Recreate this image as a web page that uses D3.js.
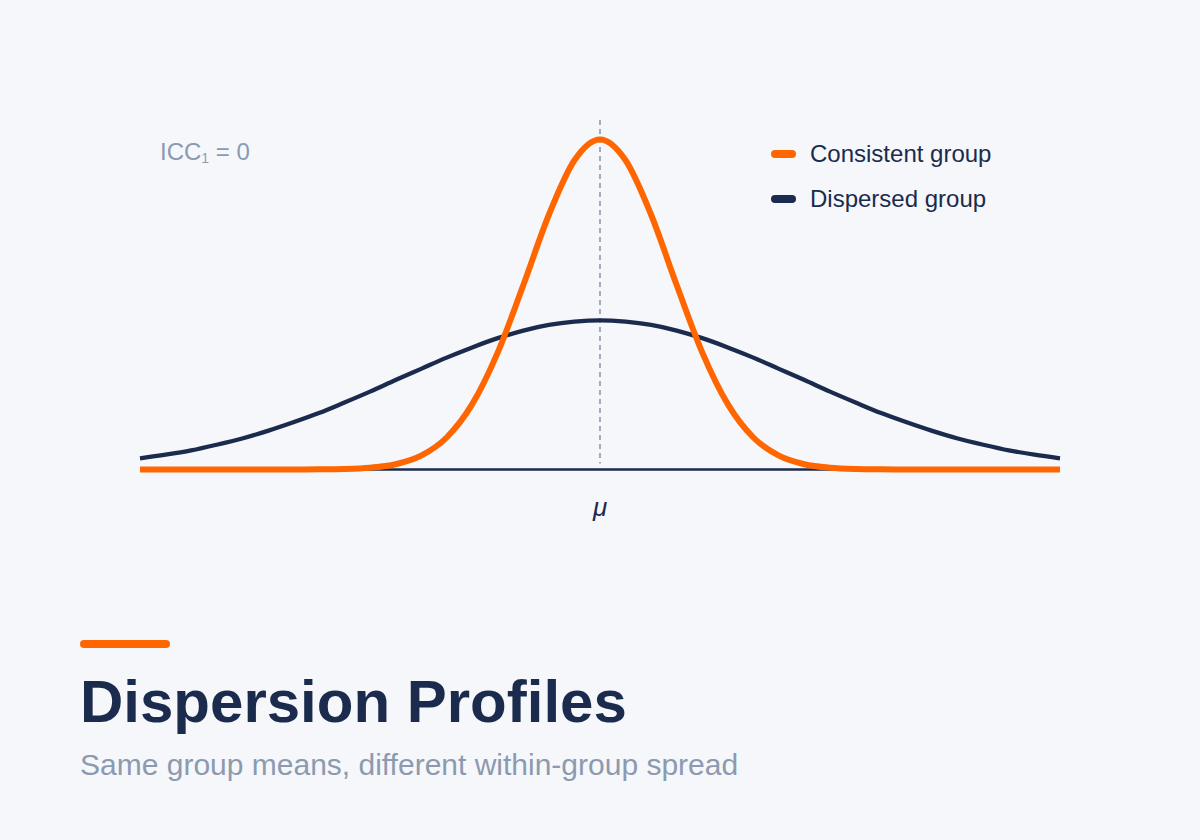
<!DOCTYPE html>
<html>
<head>
<meta charset="utf-8">
<script src="https://cdn.jsdelivr.net/npm/d3@7"></script>
<style>
  html, body { margin: 0; padding: 0; background: #f5f7fa; }
  svg { display: block; font-family: "Liberation Sans", Arial, sans-serif; }
</style>
</head>
<body>
<div id="chart"></div>
<script>
// x positions (in sd-ish units around the mean)
const xs = [-4.5, -4.25, -4, -3.75, -3.5, -3.25, -3, -2.75, -2.5, -2.25, -2, -1.75, -1.5, -1.25, -1, -0.75, -0.5, -0.25, 0,
  0.25, 0.5, 0.75, 1, 1.25, 1.5, 1.75, 2, 2.25, 2.5, 2.75, 3, 3.25, 3.5, 3.75, 4, 4.25, 4.5];

// relative heights
const consistent = [0, 0, 0, 0, 0, 0, 0.0001, 0.0004, 0.0015, 0.0053, 0.016, 0.042, 0.097, 0.198, 0.355, 0.559, 0.772, 0.937, 1,
  0.937, 0.772, 0.559, 0.355, 0.198, 0.097, 0.042, 0.016, 0.0053, 0.0015, 0.0004, 0.0001, 0, 0, 0, 0, 0, 0];

const dispersed = [0.034, 0.045, 0.058, 0.075, 0.094, 0.117, 0.143, 0.171, 0.203, 0.236, 0.271, 0.305, 0.339, 0.370, 0.398, 0.421, 0.438, 0.448, 0.452,
  0.448, 0.438, 0.421, 0.398, 0.370, 0.339, 0.305, 0.271, 0.236, 0.203, 0.171, 0.143, 0.117, 0.094, 0.075, 0.058, 0.045, 0.034];

const seriesNames = ['Consistent group', 'Dispersed group'];
const meanLabel = 'μ';
const title = 'Dispersion Profiles';
const subtitle = 'Same group means, different within-group spread';

const orange = '#ff6600';
const navy = '#1b2b4d';
const grey = '#8c9ab0';

const width = 1200, height = 840;

const svg = d3.select('#chart')
  .append('svg')
  .attr('width', width)
  .attr('height', height);

svg.append('rect')
  .attr('width', width)
  .attr('height', height)
  .attr('fill', '#f5f7fa');

const x = d3.scaleLinear()
  .domain([-4.5, 4.5])
  .range([140, 1060]);

const y = d3.scaleLinear()
  .domain([0, 1])
  .range([469.5, 139.5]);

// baseline
svg.append('line')
  .attr('x1', x(-4.5))
  .attr('x2', x(4.5))
  .attr('y1', y(0))
  .attr('y2', y(0))
  .attr('stroke', navy)
  .attr('stroke-width', 2.5);

// mean marker
svg.append('line')
  .attr('x1', x(0))
  .attr('x2', x(0))
  .attr('y1', 120)
  .attr('y2', y(0) - 6)
  .attr('stroke', grey)
  .attr('stroke-width', 1.6)
  .attr('stroke-dasharray', '5,4');

const line = d3.line()
  .x((d, i) => x(xs[i]))
  .y(d => y(d))
  .curve(d3.curveMonotoneX);

svg.append('path')
  .datum(dispersed)
  .attr('d', line)
  .attr('fill', 'none')
  .attr('stroke', navy)
  .attr('stroke-width', 4.3);

svg.append('path')
  .datum(consistent)
  .attr('d', line)
  .attr('fill', 'none')
  .attr('stroke', orange)
  .attr('stroke-width', 6);

svg.append('text')
  .attr('x', x(0))
  .attr('y', 516)
  .attr('text-anchor', 'middle')
  .attr('font-size', 26)
  .attr('font-style', 'italic')
  .attr('fill', navy)
  .text(meanLabel);

// ICC annotation
const icc = svg.append('text')
  .attr('x', 160)
  .attr('y', 160)
  .attr('font-size', 24)
  .attr('fill', grey);
icc.append('tspan').text('ICC');
icc.append('tspan').attr('font-size', 14).attr('dy', 3).text('1');
icc.append('tspan').attr('dy', -3).text(' = 0');

// legend
const legend = svg.append('g');
[orange, navy].forEach((c, i) => {
  const ly = 154 + i * 45;
  legend.append('line')
    .attr('x1', 775)
    .attr('x2', 792)
    .attr('y1', ly)
    .attr('y2', ly)
    .attr('stroke', c)
    .attr('stroke-width', 8)
    .attr('stroke-linecap', 'round');
  legend.append('text')
    .attr('x', 810)
    .attr('y', ly + 8)
    .attr('font-size', 24)
    .attr('fill', navy)
    .text(seriesNames[i]);
});

// title block
svg.append('rect')
  .attr('x', 80)
  .attr('y', 640)
  .attr('width', 90)
  .attr('height', 8)
  .attr('rx', 4)
  .attr('fill', orange);

svg.append('text')
  .attr('x', 80)
  .attr('y', 722)
  .attr('font-size', 60)
  .attr('font-weight', 'bold')
  .attr('fill', navy)
  .text(title);

svg.append('text')
  .attr('x', 80)
  .attr('y', 775)
  .attr('font-size', 30)
  .attr('fill', grey)
  .text(subtitle);
</script>
</body>
</html>
